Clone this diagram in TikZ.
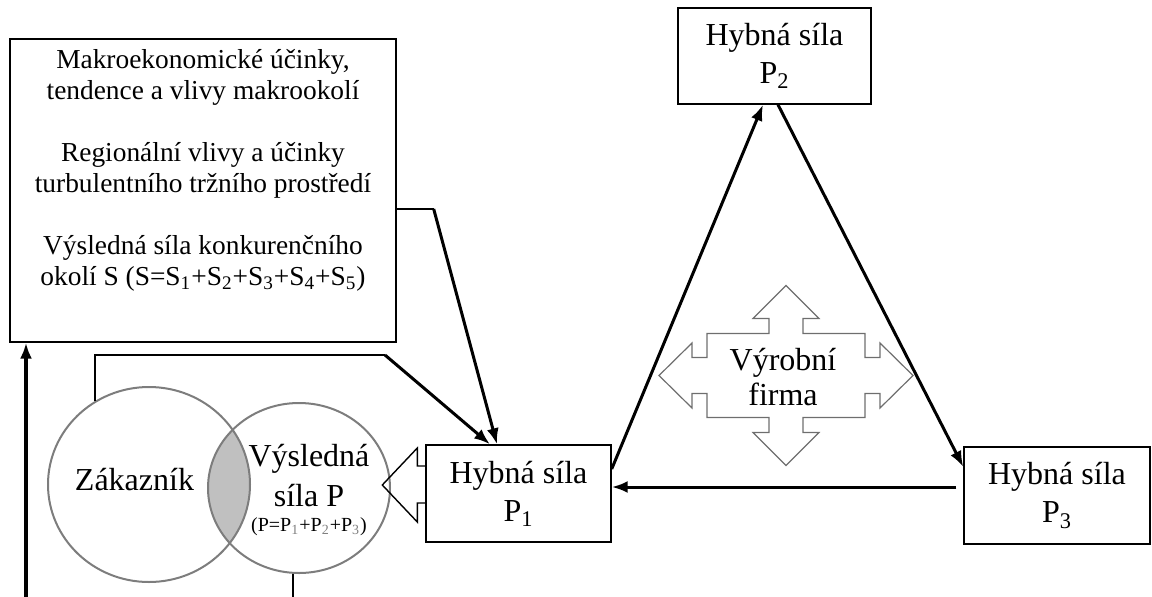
\documentclass[tikz,border=0pt]{standalone}
\usepackage{fontspec}
\setmainfont{Liberation Serif}
\usetikzlibrary{shapes.geometric, arrows.meta}
\definecolor{lensgray}{RGB}{192,192,192}
\definecolor{venngray}{RGB}{125,125,125}
\definecolor{crossgray}{RGB}{110,110,110}

\begin{document}
\begin{tikzpicture}[
  x=0.5pt, y=-0.5pt,
  hybnode/.style={draw, line width=0.7pt, minimum height=48.5pt, inner sep=0pt,
    align=center, font=\fontsize{16}{19}\selectfont},
  venn/.style={draw=venngray, line width=1pt, ellipse, inner sep=0pt},
  push/.style={-{Latex[length=8pt,width=6pt]}, line width=1.5pt},
  link/.style={line width=0.7pt},
]
\useasboundingbox (0,0) rectangle (1152,596);

% shaded overlap of the two circles
\begin{scope}
  \clip (149,484.5) ellipse [x radius=101, y radius=97.5];
  \fill[lensgray] (299,488) ellipse [x radius=91, y radius=85];
\end{scope}

\node[draw, line width=0.7pt, minimum width=193pt, minimum height=151.5pt, inner sep=0pt] (makro) at (203,190.5) {};
\node[align=center, font=\fontsize{13.7}{15.5}\selectfont] (makrotext) at (203,170)
  {Makroekonomické účinky,\\tendence a vlivy makrookolí\\[15.5pt]
   Regionální vlivy a účinky\\turbulentního tržního prostředí\\[15.5pt]
   Výsledná síla konkurenčního\\okolí S (S=S\textsubscript{1}+S\textsubscript{2}+S\textsubscript{3}+S\textsubscript{4}+S\textsubscript{5})};

\node[venn, minimum width=101pt, minimum height=97.5pt] (zak) at (149,484.5) {};
\node[venn, minimum width=91pt, minimum height=85pt] (res) at (299,488) {};
\node[font=\fontsize{16}{19}\selectfont, anchor=base] (zaktext) at (134.5,490) {Zákazník};
\node[align=center, font=\fontsize{16}{20}\selectfont] (restext) at (309,490)
  {Výsledná\\síla P\\[-7.5pt]{\fontsize{10}{12}\selectfont (P=P\textsubscript{\color{gray}1}+P\textsubscript{\color{gray}2}+P\textsubscript{\color{gray}3})}};

\node[hybnode, minimum width=92.5pt] (p1) at (518.5,493.5) {Hybná síla\\P\textsubscript{1}};
\node[hybnode, minimum width=96.5pt, minimum height=48pt] (p2) at (774.5,56) {Hybná síla\\P\textsubscript{2}};
\node[hybnode, minimum width=93pt] (p3) at (1057,495.5) {Hybná síla\\P\textsubscript{3}};

% four-way arrow
\draw[crossgray, line width=0.6pt, shift={(786,375.5)}]
  (0,-90) -- (33,-57) -- (17,-57) -- (17,-42) -- (79,-42) -- (79,-18) -- (94,-18) -- (94,-32.5)
  -- (127,0) -- (94,32.5) -- (94,18) -- (79,18) -- (79,42) -- (17,42) -- (17,57) -- (33,57)
  -- (0,90) -- (-33,57) -- (-17,57) -- (-17,42) -- (-79,42) -- (-79,18) -- (-94,18) -- (-94,32.5)
  -- (-127,0) -- (-94,-32.5) -- (-94,-18) -- (-79,-18) -- (-79,-42) -- (-17,-42) -- (-17,-57) -- (-33,-57) -- cycle;
\node[font=\fontsize{16}{17.5}\selectfont, align=center] (firma) at (783,377) {Výrobní\\firma};

% hollow arrow P1 -> circle
\draw[link] ([shift={(0,-27.5)}]p1.west) -- ++(-8,0) -- ++(0,-18) -- ++(-35,37)
  -- ++(35,37) -- ++(0,-19) -- ++(8,0);

% inputs into P1
\coordinate (k1) at ([shift={(37,18.5)}]makro.east);
\draw[link] ([shift={(0,18.5)}]makro.east) -- (k1);
\draw[push] (k1) -- ([shift={(-21.5,0)}]p1.north);
\coordinate (k2) at (385,355);
\draw[link] (zak.123) |- (k2);
\draw[push] (k2) -- ([shift={(-28.5,0)}]p1.north);

% feedback
\coordinate (base) at (26,600);
\draw[push, line width=1.8pt] (base) -- (base |- makro.south);
\draw[link] (res.266) -- ++(0,30);

% triangle
\draw[push] ([shift={(0,-24.5)}]p1.east) -- ([shift={(-11.5,0)}]p2.south);
\draw[push] ([shift={(3.5,0)}]p2.south) -- ([shift={(0,-28.5)}]p3.west);
\draw[push] ([shift={(-7,-8.5)}]p3.west) -- ([shift={(0,-6.5)}]p1.east);
\end{tikzpicture}
\end{document}
